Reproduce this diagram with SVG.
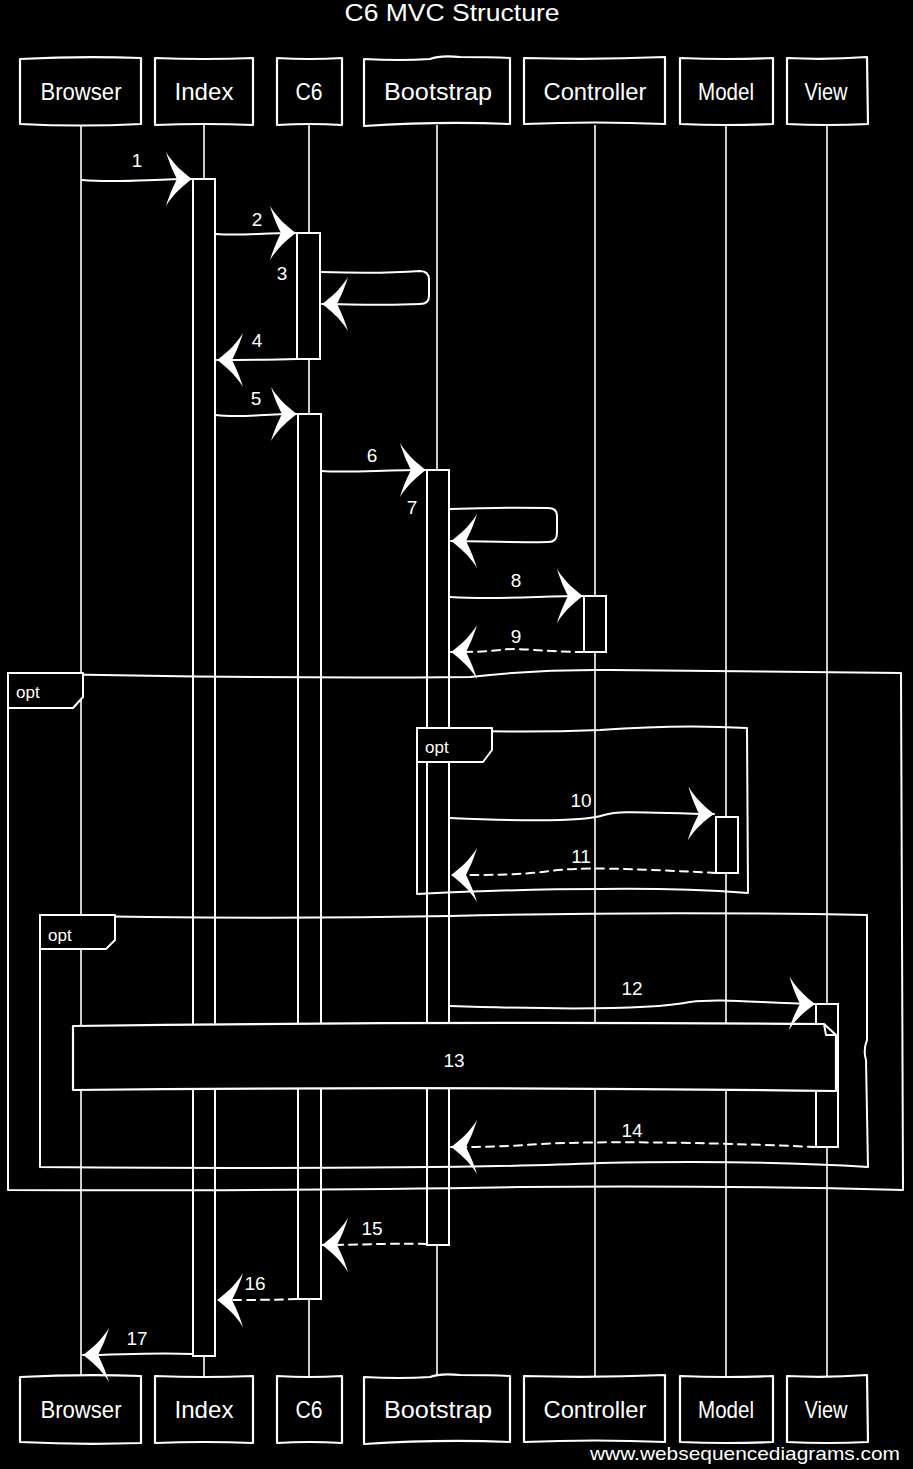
<svg xmlns="http://www.w3.org/2000/svg" width="913" height="1469" viewBox="0 0 913 1469">
<style>
.bg{fill:#000}
.life{stroke:#fff;stroke-width:1.6;fill:none}
.box{stroke:#fff;stroke-width:2.2;fill:#000;stroke-linejoin:round}
.act{stroke:#fff;stroke-width:2;fill:#000}
.frame{stroke:#fff;stroke-width:2;fill:none;stroke-linejoin:round}
.tab{stroke:#fff;stroke-width:2;fill:#000;stroke-linejoin:round}
.msg{stroke:#fff;stroke-width:2;fill:none;stroke-linecap:round;stroke-linejoin:round;marker-end:url(#ah)}
.dash{stroke-dasharray:8 6}
.t{font-family:"Liberation Sans",Arial,sans-serif;fill:#fff;text-anchor:middle}
.pn{font-size:24px}
.lbl{font-size:19px}
.opt{font-size:17px;text-anchor:start}
</style>
<defs>
<marker id="ah" markerUnits="userSpaceOnUse" markerWidth="60" markerHeight="60" viewBox="-30 -30 60 60" refX="0" refY="0" orient="auto" overflow="visible">
<path d="M0,0 C-8,-6 -18,-14 -26,-27 C-22,-14 -18,-6 -15,0 C-18,6 -22,14 -26,27 C-18,14 -8,6 0,0 Z" fill="#fff"/>
</marker>
</defs>
<rect class="bg" x="0" y="0" width="913" height="1469"/>
<text class="t" x="452" y="21" font-size="23" textLength="215" lengthAdjust="spacingAndGlyphs">C6 MVC Structure</text>

<g id="lifelines">
<line class="life" x1="81" y1="125" x2="81" y2="1376"/>
<line class="life" x1="204" y1="125" x2="204" y2="1376"/>
<line class="life" x1="309" y1="125" x2="309" y2="1376"/>
<line class="life" x1="437" y1="125" x2="437" y2="1376"/>
<line class="life" x1="595" y1="125" x2="595" y2="1376"/>
<line class="life" x1="726" y1="125" x2="726" y2="1376"/>
<line class="life" x1="827" y1="125" x2="827" y2="1376"/>
</g>

<g id="p-browser">
<path class="box" d="M20,59 Q80,56 141,58 L141,124 Q80,127 20,124 Z"/>
<text class="t pn" x="81" y="100" textLength="81" lengthAdjust="spacingAndGlyphs">Browser</text>
<path class="box" d="M20,1377 Q80,1374 141,1376 L141,1443 Q80,1445 20,1442 Z"/>
<text class="t pn" x="81" y="1418" textLength="81" lengthAdjust="spacingAndGlyphs">Browser</text>
</g>
<g id="p-index">
<path class="box" d="M155,58 Q204,60 253,58 L253,125 Q204,123 155,125 Z"/>
<text class="t pn" x="204" y="100" textLength="59" lengthAdjust="spacingAndGlyphs">Index</text>
<path class="box" d="M155,1376 Q204,1378 253,1376 L253,1443 Q204,1441 155,1443 Z"/>
<text class="t pn" x="204" y="1418" textLength="59" lengthAdjust="spacingAndGlyphs">Index</text>
</g>
<g id="p-c6">
<path class="box" d="M277,58 Q309,60 342,58 L342,125 Q309,123 277,125 Z"/>
<text class="t pn" x="309" y="100" textLength="27" lengthAdjust="spacingAndGlyphs">C6</text>
<path class="box" d="M277,1376 Q309,1378 342,1376 L342,1443 Q309,1441 277,1443 Z"/>
<text class="t pn" x="309" y="1418" textLength="27" lengthAdjust="spacingAndGlyphs">C6</text>
</g>
<g id="p-bootstrap">
<path class="box" d="M364,59 Q400,61 430,59 Q440,55 460,57 Q490,57 510,58 L510,124 Q440,121 364,126 Z"/>
<text class="t pn" x="438" y="100" textLength="108" lengthAdjust="spacingAndGlyphs">Bootstrap</text>
<path class="box" d="M364,1377 Q400,1379 430,1377 Q440,1373 460,1375 Q490,1375 510,1376 L510,1442 Q440,1439 364,1444 Z"/>
<text class="t pn" x="438" y="1418" textLength="108" lengthAdjust="spacingAndGlyphs">Bootstrap</text>
</g>
<g id="p-controller">
<path class="box" d="M524,58 Q595,60 665,57 L665,124 Q595,121 524,124 Z"/>
<text class="t pn" x="595" y="100" textLength="103" lengthAdjust="spacingAndGlyphs">Controller</text>
<path class="box" d="M524,1376 Q595,1378 665,1375 L665,1442 Q595,1439 524,1442 Z"/>
<text class="t pn" x="595" y="1418" textLength="103" lengthAdjust="spacingAndGlyphs">Controller</text>
</g>
<g id="p-model">
<path class="box" d="M680,58 Q726,60 773,58 L773,124 Q726,126 680,124 Z"/>
<text class="t pn" x="726" y="100" textLength="56" lengthAdjust="spacingAndGlyphs">Model</text>
<path class="box" d="M680,1376 Q726,1378 773,1376 L773,1442 Q726,1444 680,1442 Z"/>
<text class="t pn" x="726" y="1418" textLength="56" lengthAdjust="spacingAndGlyphs">Model</text>
</g>
<g id="p-view">
<path class="box" d="M787,58 Q827,60 867,57 L868,124 Q827,126 787,124 Z"/>
<text class="t pn" x="826" y="100" textLength="43" lengthAdjust="spacingAndGlyphs">View</text>
<path class="box" d="M787,1376 Q827,1378 867,1375 L868,1442 Q827,1444 787,1442 Z"/>
<text class="t pn" x="826" y="1418" textLength="43" lengthAdjust="spacingAndGlyphs">View</text>
</g>

<g id="activations">
<rect class="act" x="193" y="179" width="22" height="1177"/>
<rect class="act" x="297" y="233" width="23" height="126"/>
<rect class="act" x="298" y="414" width="23" height="885"/>
<rect class="act" x="427" y="470" width="22" height="775"/>
<rect class="act" x="584" y="596" width="22" height="56"/>
<rect class="act" x="716" y="817" width="22" height="56"/>
<rect class="act" x="816" y="1004" width="22" height="143"/>
</g>

<g id="frame-opt-outer">
<path class="frame" d="M8,673 Q250,679 470,677 Q540,669 610,670 Q760,671 901,673 L903,1190 Q700,1185 520,1187 Q300,1191 8,1190 Z"/>
<path class="tab" d="M8,673 L83,673 L83,697 L73,708 L8,708 Z"/>
<text class="t opt" x="16" y="698">opt</text>
</g>
<g id="frame-opt-model">
<path class="frame" d="M417,728 Q500,734 600,730 Q680,724 747,728 L748,893 Q680,888 600,889 Q520,889 417,894 Z"/>
<path class="tab" d="M417,728 L492,728 L492,750 L483,762 L417,762 Z"/>
<text class="t opt" x="425" y="753">opt</text>
</g>
<g id="frame-opt-view">
<path class="frame" d="M40,915 Q250,920 450,916 Q650,911 867,915 L867,1040 Q863,1050 866,1060 L868,1167 Q760,1160 600,1163 Q450,1170 40,1167 Z"/>
<path class="tab" d="M40,915 L115,915 L115,940 L106,949 L40,949 Z"/>
<text class="t opt" x="48" y="941">opt</text>
</g>

<g id="note-13">
<path class="box" d="M73,1026 Q450,1021 824,1024 L836,1035 L836,1091 Q450,1086 73,1090 Z"/>
<path class="frame" d="M824,1024 L826,1035 L836,1035"/>
<text class="t lbl" x="454" y="1067">13</text>
</g>

<g id="connectors">
<path class="msg" d="M82,180 C120,183 150,179 192,179"/>
<path class="msg" d="M216,234 C240,236 260,233 296,233"/>
<path class="msg" d="M321,272 Q380,274 420,271 Q429,271 429,280 L429,296 Q429,304 420,304 C380,306 350,304 322,304"/>
<path class="msg" d="M297,359 C270,360 250,360 217,360"/>
<path class="msg" d="M216,415 C240,418 260,414 297,414"/>
<path class="msg" d="M321,471 C350,473 380,470 426,470"/>
<path class="msg" d="M450,509 Q500,507 548,508 Q557,508 557,516 L557,533 Q557,542 548,542 C510,543 480,541 451,541"/>
<path class="msg" d="M450,597 C500,600 540,596 583,596"/>
<path class="msg dash" d="M584,652 C540,652 520,647 500,650 C480,652 470,652 451,652"/>
<path class="msg" d="M450,818 C540,822 590,820 604,815 C620,810 650,813 714,814"/>
<path class="msg dash" d="M716,873 C620,868 580,867 550,871 C520,875 490,875 451,875"/>
<path class="msg" d="M450,1006 C600,1011 660,1008 690,1002 C720,998 760,1003 815,1004"/>
<path class="msg dash" d="M816,1147 C700,1142 600,1141 540,1144 C500,1147 480,1147 451,1147"/>
<path class="msg dash" d="M427,1244 C390,1243 360,1245 322,1245"/>
<path class="msg dash" d="M297,1299 C270,1300 250,1300 217,1300"/>
<path class="msg" d="M193,1354 C150,1352 120,1355 83,1355"/>
</g>

<g id="labels">
<text class="t lbl" x="137" y="167">1</text>
<text class="t lbl" x="257" y="226">2</text>
<text class="t lbl" x="282" y="280">3</text>
<text class="t lbl" x="257" y="347">4</text>
<text class="t lbl" x="256" y="405">5</text>
<text class="t lbl" x="372" y="462">6</text>
<text class="t lbl" x="412" y="514">7</text>
<text class="t lbl" x="516" y="587">8</text>
<text class="t lbl" x="516" y="643">9</text>
<text class="t lbl" x="581" y="807">10</text>
<text class="t lbl" x="581" y="863">11</text>
<text class="t lbl" x="632" y="995">12</text>
<text class="t lbl" x="632" y="1137">14</text>
<text class="t lbl" x="372" y="1235">15</text>
<text class="t lbl" x="255" y="1290">16</text>
<text class="t lbl" x="137" y="1345">17</text>
</g>

<text x="590" y="1460" font-family="'Liberation Sans Narrow','Liberation Sans',Arial,sans-serif" font-size="19" fill="#fff" textLength="310" lengthAdjust="spacingAndGlyphs">www.websequencediagrams.com</text>
</svg>
